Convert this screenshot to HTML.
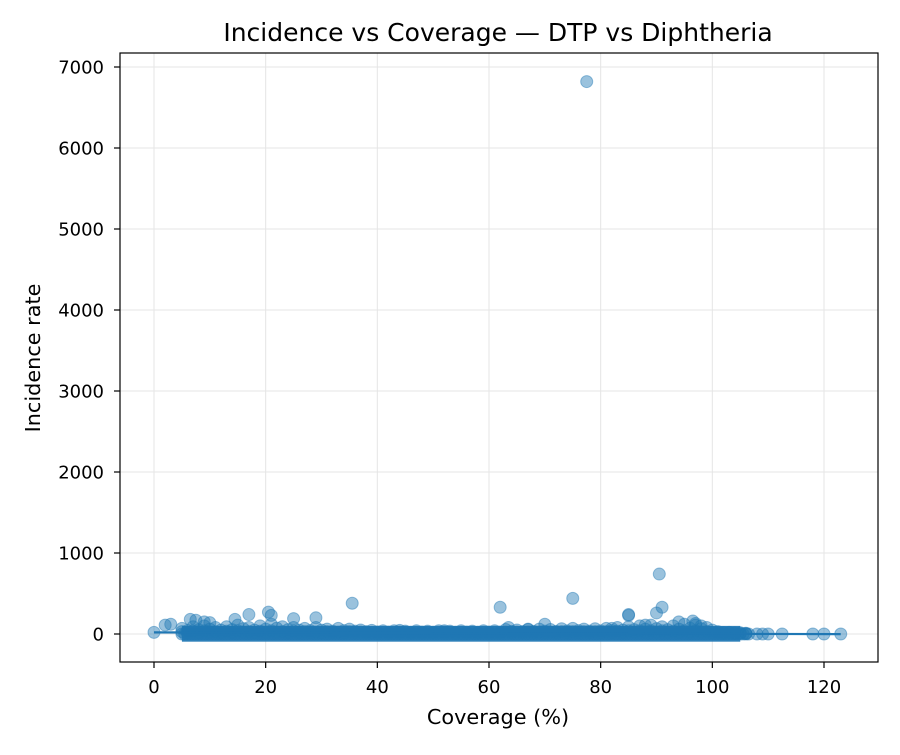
<!DOCTYPE html>
<html><head><meta charset="utf-8"><style>
body{margin:0;background:#fff}
svg text{font-family:"DejaVu Sans","Liberation Sans",sans-serif;fill:#000}
</style></head><body>
<svg id="chart" width="900" height="750">
<rect width="900" height="750" fill="#fff"/>
<g id="grid"></g><g id="marks"></g><g id="axes"></g>
<text x="498" y="41" text-anchor="middle" font-size="25">Incidence vs Coverage — DTP vs Diphtheria</text>
<text x="498" y="724" text-anchor="middle" font-size="20.8">Coverage (%)</text>
<text transform="translate(40,358) rotate(-90)" text-anchor="middle" font-size="20.8">Incidence rate</text>
</svg>
<script>
const xTicks=[0,20,40,60,80,100,120];
const yTicks=[0,1000,2000,3000,4000,5000,6000,7000];
const bandCoverage=[5,7,9,11,13,15,17,19,21,23,25,27,29,31,33,35,37,39,41,43,45,47,49,51,53,55,57,59,61,63,65,67,69,71,73,75,77,79,81,83,85,87,89,91,93,95,97,99,101,103,105];
const bandLow=[0,0,0,0,0,0,0,0,0,0,0,0,0,0,0,0,0,0,0,0,0,0,0,0,0,0,0,0,0,0,0,0,0,0,0,0,0,0,0,0,0,0,0,0,0,0,0,0,0,0,0];
const bandMid=[30,35,40,30,35,40,30,35,40,30,35,30,25,30,25,30,25,20,20,20,20,20,20,20,20,20,20,20,20,25,25,25,25,25,30,30,30,30,30,35,40,40,40,40,35,40,40,30,15,15,10];
const bandHigh=[70,90,100,80,90,110,80,100,120,90,80,70,80,60,70,60,50,45,40,40,35,40,35,40,35,40,35,40,40,55,50,55,60,55,65,70,60,65,70,80,90,100,110,90,100,120,110,80,30,20,15];
const outCoverage=[0,2,3,6.5,7.5,9,10,14.5,17,20.5,21,25,29,35.5,62,75,77.5,90.5,91,90,85,85,94,96.5,97,98,70,63.5,108,109,110,112.5,118,120,123,44,52,67,82,88];
const outIncidence=[20,110,120,180,170,150,140,180,240,270,230,190,200,380,330,440,6820,740,330,260,240,230,150,160,130,100,120,80,0,0,0,0,0,0,0,45,40,60,70,110];
const lineCoverage=[0,123];
const lineIncidence=[20,-2];
const NS='http://www.w3.org/2000/svg';
const X0=120,X1=878,Y0=53,Y1=662;
const sx=v=>154+v*(824-154)/120;
const sy=v=>634-v*(634-67)/7000;
const grid=document.getElementById('grid'),marks=document.getElementById('marks'),axes=document.getElementById('axes');
function mk(tag,attrs,parent){const e=document.createElementNS(NS,tag);for(const k in attrs)e.setAttribute(k,attrs[k]);parent.appendChild(e);return e;}
xTicks.forEach(t=>{
 const g=mk('line',{x1:sx(t),x2:sx(t),y1:Y0,y2:Y1,stroke:'#e5e5e5','stroke-width':1},grid);
 
 
 mk('line',{x1:sx(t),x2:sx(t),y1:Y1,y2:Y1+6,stroke:'#000','stroke-width':1.2},axes);
 const tx=mk('text',{x:sx(t),y:Y1+31,'text-anchor':'middle','font-size':18},axes);tx.textContent=t;
 
 
});
yTicks.forEach(t=>{
 const g=mk('line',{x1:X0,x2:X1,y1:sy(t),y2:sy(t),stroke:'#e5e5e5','stroke-width':1},grid);
 
 
 mk('line',{x1:X0-6,x2:X0,y1:sy(t),y2:sy(t),stroke:'#000','stroke-width':1.2},axes);
 const tx=mk('text',{x:X0-16,y:sy(t)+6.5,'text-anchor':'end','font-size':18},axes);tx.textContent=t;
 
 
});
const fr=mk('rect',{x:X0,y:Y0,width:X1-X0,height:Y1-Y0,fill:'none',stroke:'#000','stroke-width':1.2},axes);


function dot(x,y){const c=mk('circle',{cx:sx(x),cy:sy(y),r:6,fill:'#1f77b4','fill-opacity':0.45,stroke:'#1f77b4','stroke-opacity':0.45,'stroke-width':1},marks);
 
 }
[bandLow,bandMid,bandHigh].forEach(arr=>bandCoverage.forEach((x,i)=>{dot(x,arr[i]);dot(x+1,arr[i]*0.6);}));
bandCoverage.forEach((x,i)=>{dot(x+0.5,bandLow[i]);dot(x+1.5,bandLow[i]);});
outCoverage.forEach((x,i)=>dot(x,outIncidence[i]));
const band=mk('rect',{x:sx(5),y:sy(100),width:sx(105)-sx(5),height:sy(-95)-sy(100),fill:'#1f77b4',opacity:0.92},marks);


const ln=mk('line',{x1:sx(lineCoverage[0]),y1:sy(lineIncidence[0]),x2:sx(lineCoverage[1]),y2:sy(lineIncidence[1]),stroke:'#1f77b4','stroke-width':2.2},marks);


</script>
</body></html>
